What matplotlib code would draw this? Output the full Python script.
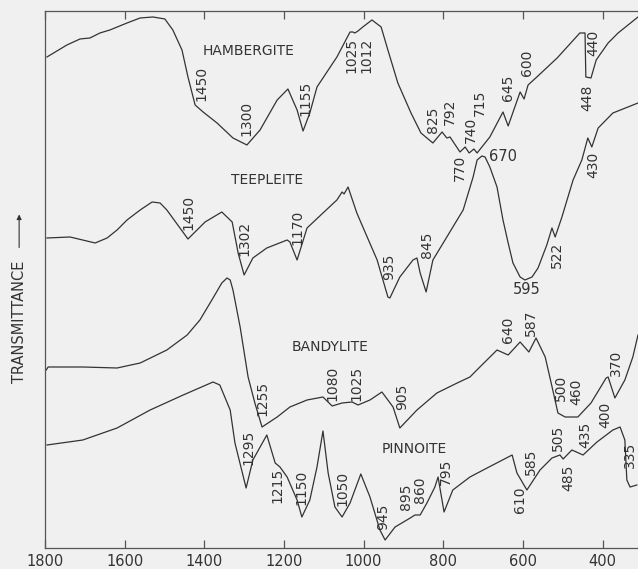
import matplotlib
matplotlib.use("Agg")
import matplotlib.pyplot as plt

# infrared spectra, wavenumber (cm-1) vs relative transmittance (arbitrary offset units)

hamb_wn = [1795, 1745, 1712, 1687, 1662, 1637, 1594, 1561, 1529, 1499, 1479, 1456, 1441,
           1423, 1403, 1368, 1328, 1293, 1260, 1217, 1190, 1167, 1152, 1135, 1117, 1067,
           1034, 1027, 1022, 1014, 1002, 979, 956, 939, 914, 881, 856, 826, 803, 791,
           783, 758, 745, 735, 723, 715, 683, 650, 637, 607, 597, 587, 565, 514, 457,
           444, 442, 429, 416, 386, 361, 311]
hamb_t = [491, 503, 509, 510, 515, 518, 525, 530, 531, 529, 518, 498, 471,
          443, 436, 425, 410, 403, 418, 448, 459, 438, 417, 435, 461, 491,
          516, 516, 515, 517, 521, 528, 521, 498, 465, 435, 415, 405, 416, 410,
          411, 396, 401, 395, 399, 395, 411, 436, 422, 456, 449, 463, 471, 490, 515,
          515, 471, 470, 488, 505, 515, 531]

teep_wn = [1795, 1737, 1674, 1644, 1619, 1594, 1561, 1531, 1511, 1494, 1441, 1398, 1356,
           1330, 1315, 1300, 1278, 1243, 1192, 1185, 1167, 1142, 1102, 1067, 1054, 1049,
           1039, 1017, 991, 966, 939, 934, 909, 876, 866, 858, 843, 826, 791, 750, 725,
           715, 703, 695, 683, 665, 650, 637, 625, 607, 595, 577, 562, 540, 527, 519,
           502, 474, 452, 437, 427, 411, 374, 311]
teep_t = [310, 311, 305, 310, 318, 328, 338, 346, 345, 338, 309, 326, 336,
          326, 295, 273, 290, 300, 308, 306, 288, 320, 335, 348, 356, 354,
          361, 335, 311, 288, 251, 250, 271, 288, 290, 275, 256, 288, 311, 338, 371,
          388, 392, 391, 381, 361, 328, 305, 285, 271, 268, 271, 280, 303, 320, 311,
          331, 368, 388, 410, 401, 420, 435, 445]

band_wn = [1797, 1792, 1705, 1619, 1561, 1494, 1443, 1411, 1378, 1356, 1343, 1335, 1328,
           1310, 1290, 1273, 1255, 1217, 1185, 1142, 1102, 1079, 1054, 1029, 1014, 984,
           954, 926, 909, 866, 816, 765, 733, 708, 665, 637, 607, 585, 567, 544, 529,
           512, 494, 462, 429, 391, 386, 369, 344, 324, 311]
band_t = [178, 181, 181, 180, 185, 198, 213, 228, 250, 265, 270, 268, 258,
          221, 171, 145, 121, 131, 141, 148, 151, 142, 145, 146, 143, 148,
          156, 141, 120, 138, 155, 165, 171, 181, 198, 193, 206, 196, 210, 191, 165,
          135, 131, 131, 145, 170, 171, 150, 168, 191, 213]

pinn_wn = [1795, 1705, 1619, 1536, 1453, 1378, 1361, 1335, 1323, 1295, 1278, 1243, 1222,
           1210, 1192, 1167, 1155, 1135, 1117, 1102, 1089, 1072, 1054, 1034, 1007, 984,
           959, 946, 921, 904, 883, 871, 858, 841, 821, 813, 798, 776, 733, 690, 627,
           615, 590, 557, 527, 507, 499, 477, 449, 414, 374, 356, 344, 339, 331, 314]
pinn_t = [103, 108, 120, 138, 153, 166, 163, 138, 105, 60, 88, 113, 85,
          81, 71, 48, 31, 48, 81, 117, 75, 41, 31, 45, 74, 51,
          18, 8, 21, 25, 30, 33, 33, 45, 61, 71, 36, 58, 71, 80, 93,
          75, 58, 78, 90, 93, 89, 98, 93, 106, 118, 121, 108, 68, 61, 63]

# mineral names (horizontal)
names = ["HAMBERGITE", "TEEPLEITE", "BANDYLITE", "PINNOITE"]
name_wn = [1290, 1243, 1084, 873]
name_t = [497, 368, 201, 99]

# band labels (vertical)
band_labels = ["1450", "1300", "1155", "1025", "1012", "825", "792", "770", "740", "715",
               "645", "600", "448", "440",
               "1450", "1302", "1170", "935", "845", "522", "430",
               "1255", "1080", "1025", "905", "640", "587", "500", "460", "370",
               "1295", "1215", "1150", "1050", "945", "895", "860", "795", "610", "585",
               "505", "485", "435", "400", "335"]
label_wn = [1406, 1293, 1147, 1031, 993, 826, 783, 758, 730, 708,
            637, 590, 439, 424,
            1441, 1298, 1167, 936, 841, 514, 424,
            1253, 1079, 1017, 904, 637, 580, 504, 467, 366,
            1290, 1217, 1155, 1052, 951, 894, 858, 793, 607, 580,
            512, 487, 444, 394, 330]
label_t = [465, 430, 450, 493, 493, 428, 436, 380, 418, 445,
           460, 485, 450, 505,
           336, 310, 321, 281, 303, 293, 383,
           150, 165, 165, 151, 218, 225, 160, 156, 185,
           101, 63, 61, 60, 31, 51, 58, 76, 48, 86,
           110, 70, 113, 133, 93]

# horizontal band labels
hlabels = ["670", "595"]
hlabel_wn = [650, 590]
hlabel_t = [391, 258]

BG = "#f0f0f0"
INK = "#333333"

fig = plt.figure(figsize=(6.38, 5.69), dpi=100, facecolor=BG)
ax = fig.add_axes([0.0705, 0.0369, 0.9295, 0.9438], facecolor=BG)

for wn, t in [(hamb_wn, hamb_t), (teep_wn, teep_t), (band_wn, band_t), (pinn_wn, pinn_t)]:
    ax.plot(wn, t, color=INK, linewidth=0.9)

for s, x, y in zip(names, name_wn, name_t):
    ax.text(x, y, s, fontsize=10, color=INK, ha="center", va="center")

for s, x, y in zip(band_labels, label_wn, label_t):
    ax.text(x, y, s, fontsize=10, color=INK, ha="center", va="center", rotation=90)

for s, x, y in zip(hlabels, hlabel_wn, hlabel_t):
    ax.text(x, y, s, fontsize=10.5, color=INK, ha="center", va="center")

ax.set_xlim(1800, 311)
ax.set_ylim(0, 537)
ax.set_xticks([1800, 1600, 1400, 1200, 1000, 800, 600, 400])
ax.set_yticks([])
ax.tick_params(axis="x", direction="in", length=6, width=0.9, color="#555555",
               top=True, labelsize=10.5, labelcolor=INK, pad=4)
ax.spines["right"].set_visible(False)
for side in ["left", "top", "bottom"]:
    ax.spines[side].set_color("#555555")
    ax.spines[side].set_linewidth(0.9)

fig.text(0.030, 0.434, "TRANSMITTANCE", rotation=90, fontsize=10.5, color=INK,
         ha="center", va="center")
fig.add_artist(matplotlib.patches.FancyArrowPatch(
    (0.030, 0.560), (0.030, 0.628), transform=fig.transFigure,
    arrowstyle="-|>", mutation_scale=7, color=INK, linewidth=0.8))

fig.savefig("out.png", dpi=100, facecolor=BG)
